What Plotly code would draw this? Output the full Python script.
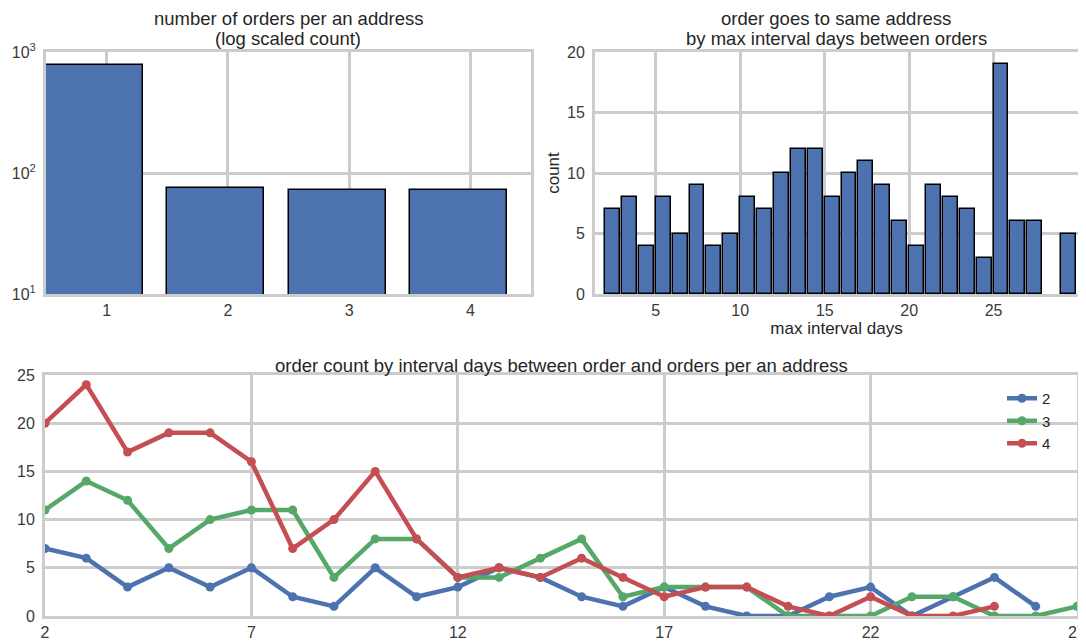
import plotly.graph_objects as go

# ---- data ----
orders_per_address = [1, 2, 3, 4]
address_counts = [775, 75, 72, 72]

interval_bin_left = list(range(2, 30))
interval_bin_counts = [7, 8, 4, 8, 5, 9, 4, 5, 8, 7, 10, 12, 12, 8, 10, 11, 9, 6, 4, 9, 8, 7, 3, 19, 6, 6, 0, 5]

days2 = list(range(2, 27))
orders2 = [7, 6, 3, 5, 3, 5, 2, 1, 5, 2, 3, 5, 4, 2, 1, 3, 1, 0, 0, 2, 3, 0, 2, 4, 1]
days3 = list(range(2, 28))
orders3 = [11, 14, 12, 7, 10, 11, 11, 4, 8, 8, 4, 4, 6, 8, 2, 3, 3, 3, 0, 0, 0, 2, 2, 0, 0, 1]
days4 = list(range(2, 26))
orders4 = [20, 24, 17, 19, 19, 16, 7, 10, 15, 8, 4, 5, 4, 6, 4, 2, 3, 3, 1, 0, 2, 0, 0, 1]

# ---- style ----
PAGE_OFF = 8  # default body margin of the html page
W, H = 1086 - PAGE_OFF, 642 - PAGE_OFF
BLUE, GREEN, RED = "#4C72B0", "#55A868", "#C44E52"
GRID = "#cccccc"
FONT = "Liberation Sans, Arial, sans-serif"
TXT = "#262626"
TICK = "#3a3a3a"

def fx(p):
    return (p - PAGE_OFF) / W

def fy(p):
    return 1 - (p - PAGE_OFF) / H

def px_x(a, b):
    return [fx(a), fx(b)]

def px_y(top, bottom):
    return [fy(bottom), fy(top)]

fig = go.Figure()

fig.add_trace(go.Bar(
    x=orders_per_address, y=address_counts, offset=-0.5, width=0.8,
    marker=dict(color=BLUE, line=dict(color="black", width=1.5)),
    xaxis="x", yaxis="y", showlegend=False))

fig.add_trace(go.Bar(
    x=interval_bin_left, y=interval_bin_counts, offset=0, width=0.88,
    marker=dict(color=BLUE, line=dict(color="black",
                width=[1.5 if c > 0 else 0 for c in interval_bin_counts])),
    xaxis="x2", yaxis="y2", showlegend=False))

for name, xs, ys, col in [("2", days2, orders2, BLUE), ("3", days3, orders3, GREEN), ("4", days4, orders4, RED)]:
    fig.add_trace(go.Scatter(
        x=xs, y=ys, name=name, mode="lines+markers",
        line=dict(color=col, width=4.5), marker=dict(color=col, size=9),
        xaxis="x3", yaxis="y3"))

base = dict(showline=True, mirror=True, linecolor=GRID, linewidth=3,
            showgrid=True, gridcolor=GRID, gridwidth=2.5, zeroline=False, ticks="",
            tickfont=dict(family=FONT, size=16, color=TICK))
xcommon = dict(base, ticklabelstandoff=0)
ycommon = dict(base, ticklabelstandoff=4)

fig.update_layout(
    width=W, height=H,
    margin=dict(l=0, r=0, t=0, b=0, autoexpand=False),
    plot_bgcolor="white", paper_bgcolor="white",
    font=dict(family=FONT, color=TXT),
    bargap=0,
    xaxis=dict(domain=px_x(46, 531), anchor="y", range=[0.5, 4.5], tickvals=orders_per_address, **xcommon),
    yaxis=dict(domain=px_y(52, 294), anchor="x", type="log", range=[1, 3],
               tickvals=[10, 100, 1000], ticktext=["10<sup>1</sup>", "10<sup>2</sup>", "10<sup>3</sup>"], **ycommon),
    xaxis2=dict(domain=px_x(595, 1078), anchor="y2", range=[1.4, 30], tickvals=[5, 10, 15, 20, 25, 30],
                title=dict(text="max interval days", font=dict(family=FONT, size=17, color=TXT), standoff=4), **xcommon),
    yaxis2=dict(domain=px_y(52, 294), anchor="x2", range=[0, 20], tickvals=[0, 5, 10, 15, 20],
                title=dict(text="count", font=dict(family=FONT, size=17, color=TXT), standoff=4), **ycommon),
    xaxis3=dict(domain=px_x(45, 1077), anchor="y3", range=[2, 27], tickvals=[2, 7, 12, 17, 22, 27], **xcommon),
    yaxis3=dict(domain=px_y(375, 616), anchor="x3", range=[0, 25], tickvals=[0, 5, 10, 15, 20, 25], **ycommon),
    legend=dict(x=fx(1002), y=fy(382), xanchor="left", yanchor="top", bgcolor="rgba(0,0,0,0)",
                font=dict(family=FONT, size=15, color=TXT), tracegroupgap=0, itemwidth=30),
    annotations=[
        dict(text="number of orders per an address", x=fx(288), y=fy(18),
             xref="paper", yref="paper", xanchor="center", yanchor="middle", showarrow=False,
             font=dict(family=FONT, size=18.5, color=TXT)),
        dict(text="(log scaled count)", x=fx(288), y=fy(38),
             xref="paper", yref="paper", xanchor="center", yanchor="middle", showarrow=False,
             font=dict(family=FONT, size=18.5, color=TXT)),
        dict(text="order goes to same address", x=fx(836), y=fy(18),
             xref="paper", yref="paper", xanchor="center", yanchor="middle", showarrow=False,
             font=dict(family=FONT, size=18.5, color=TXT)),
        dict(text="by max interval days between orders", x=fx(836), y=fy(38),
             xref="paper", yref="paper", xanchor="center", yanchor="middle", showarrow=False,
             font=dict(family=FONT, size=18.5, color=TXT)),
        dict(text="order count by interval days between order and orders per an address", x=fx(561), y=fy(365),
             xref="paper", yref="paper", xanchor="center", yanchor="middle", showarrow=False,
             font=dict(family=FONT, size=18.5, color=TXT)),
    ],
)

fig.write_html("out.html")
